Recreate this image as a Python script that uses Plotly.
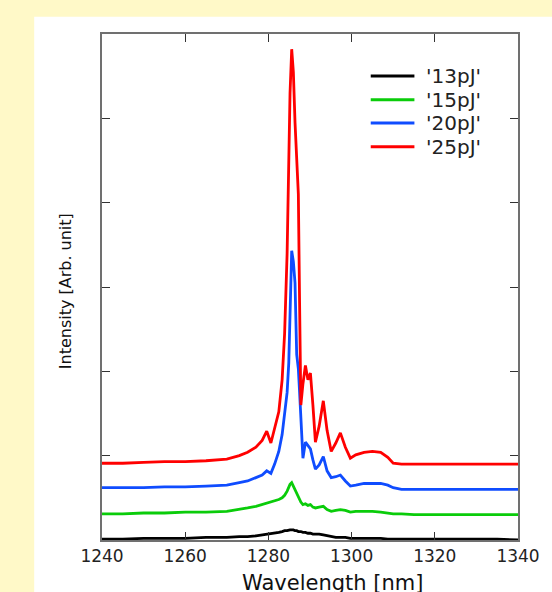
import plotly.graph_objects as go

# wavelength grid (nm)
wavelength = [
    1240, 1245, 1250, 1255, 1260, 1265, 1270, 1273, 1275, 1277, 1278.5, 1279.6,
    1280.6, 1281.5, 1282.5, 1283.3, 1283.9, 1284.5, 1284.9, 1285.2, 1285.6, 1286.0,
    1286.4, 1286.8, 1287.2, 1287.5, 1287.8, 1288.3, 1288.9, 1289.5, 1290.1, 1290.7,
    1291.3, 1292.2, 1293.2, 1294.1, 1295.1, 1296.2, 1297.3, 1298.5, 1299.7, 1301,
    1303, 1305, 1307, 1308.7, 1310, 1312, 1315, 1320, 1325, 1330, 1335, 1340,
]

int_13pj = [
    0.01, 0.01, 0.02, 0.02, 0.02, 0.03, 0.03, 0.04, 0.04, 0.05, 0.06, 0.07,
    0.07, 0.08, 0.09, 0.10, 0.11, 0.11, 0.12, 0.12, 0.12, 0.12,
    0.11, 0.11, 0.10, 0.10, 0.10, 0.09, 0.09, 0.08, 0.08, 0.07,
    0.07, 0.07, 0.06, 0.05, 0.04, 0.03, 0.03, 0.03, 0.02, 0.02,
    0.02, 0.02, 0.02, 0.01, 0.01, 0.01, 0.01, 0.01, 0.01, 0.01, 0.01, 0.00,
]

int_15pj = [
    0.31, 0.31, 0.32, 0.32, 0.33, 0.33, 0.34, 0.36, 0.38, 0.40, 0.42, 0.44,
    0.45, 0.46, 0.48, 0.50, 0.53, 0.58, 0.63, 0.66, 0.68, 0.64,
    0.58, 0.54, 0.51, 0.48, 0.45, 0.42, 0.43, 0.41, 0.42, 0.39,
    0.38, 0.39, 0.40, 0.36, 0.34, 0.35, 0.36, 0.35, 0.33, 0.34,
    0.34, 0.34, 0.33, 0.32, 0.31, 0.31, 0.30, 0.30, 0.30, 0.30, 0.30, 0.30,
]

int_20pj = [
    0.62, 0.62, 0.62, 0.63, 0.63, 0.64, 0.65, 0.68, 0.70, 0.74, 0.77, 0.82,
    0.79, 0.90, 1.05, 1.25, 1.50, 1.75, 2.10, 2.60, 3.43, 3.30,
    3.05, 2.20, 2.03, 1.75, 1.40, 0.97, 1.16, 1.12, 1.08, 0.95,
    0.84, 0.89, 0.99, 0.82, 0.74, 0.75, 0.77, 0.70, 0.64, 0.65,
    0.67, 0.67, 0.67, 0.65, 0.62, 0.60, 0.60, 0.60, 0.60, 0.60, 0.60, 0.60,
]

int_25pj = [
    0.91, 0.91, 0.92, 0.93, 0.93, 0.94, 0.96, 1.00, 1.04, 1.10, 1.18, 1.29,
    1.15, 1.32, 1.52, 1.90, 2.45, 3.40, 4.47, 5.30, 5.82, 5.55,
    4.95, 4.40, 4.10, 2.80, 1.60, 1.85, 2.07, 1.90, 1.98, 1.60,
    1.16, 1.35, 1.65, 1.30, 1.05, 1.15, 1.27, 1.10, 0.97, 1.01,
    1.04, 1.05, 1.04, 0.98, 0.91, 0.90, 0.90, 0.90, 0.90, 0.90, 0.90, 0.90,
]

series = [
    ("'13pJ'", int_13pj, "#000000"),
    ("'15pJ'", int_15pj, "#0ACC0A"),
    ("'20pJ'", int_20pj, "#0F4CFF"),
    ("'25pJ'", int_25pj, "#FF0000"),
]

x_ticks = [1240, 1260, 1280, 1300, 1320, 1340]

FONT = "DejaVu Sans"
AXIS = "#707070"
PAGE = "#FFF9C8"

fig = go.Figure()
for name, values, color in series:
    fig.add_trace(
        go.Scatter(
            x=wavelength,
            y=values,
            name=name,
            mode="lines",
            line=dict(color=color, width=2.8),
            showlegend=False,
        )
    )

# white panel on the pale yellow page
fig.add_shape(
    type="rect", xref="paper", yref="paper",
    x0=-0.163, x1=1.2, y0=-0.2, y1=1.034,
    fillcolor="white", line=dict(width=0), layer="below",
)

# legend, drawn by hand so the rows sit close like the original
row_y = [0.917, 0.870, 0.824, 0.777]
for (name, _, color), ry in zip(series, row_y):
    fig.add_shape(
        type="line", xref="paper", yref="paper",
        x0=0.646, x1=0.751, y0=ry, y1=ry,
        line=dict(color=color, width=3),
    )
    fig.add_annotation(
        x=0.773, y=ry, xref="paper", yref="paper", text=name,
        showarrow=False, xanchor="left", yanchor="middle",
        font=dict(family=FONT, size=20, color="#222222"),
    )

fig.add_annotation(
    x=0.555, y=-0.085, xref="paper", yref="paper", text="Wavelength [nm]",
    showarrow=False, xanchor="center", yanchor="middle",
    font=dict(family=FONT, size=21, color="#111111"),
)
fig.add_annotation(
    x=-0.0885, y=0.492, xref="paper", yref="paper", text="Intensity [Arb. unit]",
    showarrow=False, textangle=-90, xanchor="center", yanchor="middle",
    font=dict(family=FONT, size=16, color="#111111"),
)

fig.update_xaxes(
    range=[1240, 1340],
    tickvals=x_ticks,
    ticks="inside", ticklen=8, tickcolor="#333333", tickwidth=1,
    mirror="ticks", showline=True, linecolor=AXIS, linewidth=2,
    showgrid=False, zeroline=False,
    tickfont=dict(family=FONT, size=17, color="#222222"),
)
fig.update_yaxes(
    range=[0, 6], dtick=1,
    ticks="inside", ticklen=8, tickcolor="#333333", tickwidth=1,
    mirror="ticks", showline=True, linecolor=AXIS, linewidth=2,
    showgrid=False, zeroline=False, showticklabels=False,
)

fig.update_layout(
    width=552, height=592,
    margin=dict(l=102, r=32, t=34, b=52),
    paper_bgcolor=PAGE,
    plot_bgcolor="white",
    font=dict(family=FONT),
)

# drop the browser's default 8px body margin so the figure fills the window
fig.write_html(
    "out.html",
    config={"displayModeBar": False},
    post_script="document.body.style.margin='0';document.body.style.overflow='hidden';",
)
